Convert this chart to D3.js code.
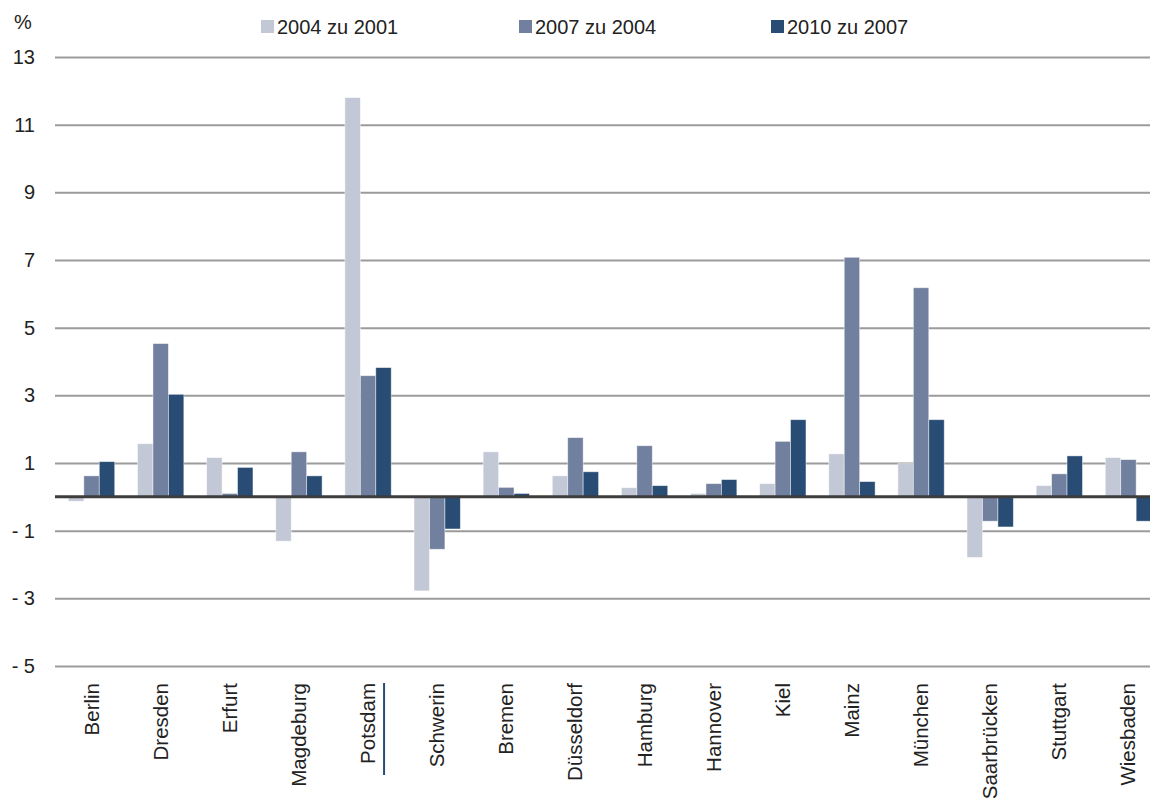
<!DOCTYPE html>
<html>
<head>
<meta charset="utf-8">
<script src="https://cdn.jsdelivr.net/npm/d3@7"></script>
<style>
  html, body { margin: 0; padding: 0; background: #fff; }
  svg { display: block; }
  text { font-family: "Liberation Sans", Arial, sans-serif; fill: #222; }
</style>
</head>
<body>
<svg id="chart" width="1150" height="798"></svg>
<script>
// Veränderung in Prozent je Stadt und Zeitraum
const cities = ["Berlin", "Dresden", "Erfurt", "Magdeburg", "Potsdam", "Schwerin", "Bremen",
  "Düsseldorf", "Hamburg", "Hannover", "Kiel", "Mainz", "München", "Saarbrücken", "Stuttgart", "Wiesbaden"];
const seriesNames = ["2004 zu 2001", "2007 zu 2004", "2010 zu 2007"];
const v2004 = [-0.13, 1.57, 1.16, -1.31, 11.8, -2.78, 1.33, 0.62, 0.27, 0.10, 0.39, 1.27, 0.98, -1.79, 0.33, 1.16];
const v2007 = [0.62, 4.53, 0.10, 1.33, 3.58, -1.55, 0.28, 1.75, 1.51, 0.39, 1.64, 7.08, 6.18, -0.72, 0.68, 1.10];
const v2010 = [1.04, 3.03, 0.87, 0.62, 3.82, -0.95, 0.10, 0.74, 0.33, 0.51, 2.28, 0.45, 2.28, -0.89, 1.21, -0.72];
const yTicks = [13, 11, 9, 7, 5, 3, 1, -1, -3, -5];
const colors = ["#c3c8d6", "#72809f", "#284c74"];

const seriesValues = [v2004, v2007, v2010];
const svg = d3.select("#chart");

const x = d3.scaleBand().domain(cities).range([57, 1163]).paddingInner(0.33).paddingOuter(0.165);
const xs = d3.scaleBand().domain(d3.range(3)).range([0, x.bandwidth()]);
const y = d3.scaleLinear().domain([-5, 13]).range([666, 57]);

// Gitternetz und Beschriftung der y-Achse
const yAxis = d3.axisLeft(y)
  .tickValues(yTicks)
  .tickSize(-1110)
  .tickPadding(20)
  .tickFormat(d => d < 0 ? "- " + Math.abs(d) : String(d));
const gy = svg.append("g").attr("transform", "translate(55,0)").call(yAxis);
gy.select(".domain").remove();
gy.selectAll(".tick line").attr("stroke", "#9b9b9b").attr("stroke-width", 2);
gy.selectAll(".tick text").style("font-size", "20px").attr("fill", "#222");

svg.append("text").attr("x", 14).attr("y", 29).style("font-size", "20px").text("%");

// Balken
const groups = svg.append("g").selectAll("g")
  .data(cities)
  .join("g")
  .attr("transform", d => `translate(${x(d)},0)`);

groups.selectAll("rect")
  .data((d, i) => seriesValues.map((vals, s) => ({ s, v: vals[i] })))
  .join("rect")
  .attr("x", d => xs(d.s))
  .attr("width", xs.bandwidth())
  .attr("y", d => y(Math.max(0, d.v)))
  .attr("height", d => Math.abs(y(d.v) - y(0)))
  .attr("fill", d => colors[d.s])
  .attr("stroke", "rgba(255,255,255,0.55)")
  .attr("stroke-width", 0.8);

// Nulllinie
svg.append("line")
  .attr("x1", 55).attr("x2", 1150)
  .attr("y1", y(0)).attr("y2", y(0))
  .attr("stroke", "#3d3d3d").attr("stroke-width", 3);

// Städtenamen, senkrecht
svg.append("g").selectAll("text")
  .data(cities)
  .join("text")
  .attr("transform", d => `translate(${x(d) + x.bandwidth() / 2 + 7},683) rotate(-90)`)
  .attr("text-anchor", "end")
  .style("font-size", "20.5px")
  .text(d => d);

// Trennstrich unter Potsdam
svg.append("line")
  .attr("x1", x("Potsdam") + x.bandwidth() / 2 + 16)
  .attr("x2", x("Potsdam") + x.bandwidth() / 2 + 16)
  .attr("y1", 683).attr("y2", 775)
  .attr("stroke", "#284c74").attr("stroke-width", 2);

// Legende
const legendX = [261, 519, 771];
const legend = svg.append("g").selectAll("g")
  .data(seriesNames)
  .join("g")
  .attr("transform", (d, i) => `translate(${legendX[i]},0)`);
legend.append("rect").attr("x", 0).attr("y", 20).attr("width", 13).attr("height", 13)
  .attr("fill", (d, i) => colors[i]);
legend.append("text").attr("x", 16).attr("y", 34).style("font-size", "20px").text(d => d);
</script>
</body>
</html>
